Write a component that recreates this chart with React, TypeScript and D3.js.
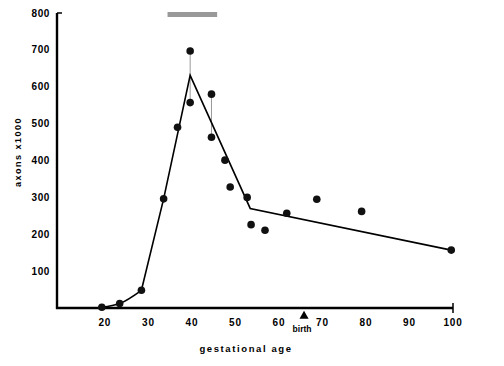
import React from 'react';
import * as d3 from 'd3';

// gestational age (x) and axon counts (y, x1000)
const ageTicks = [20, 30, 40, 50, 60, 70, 80, 90, 100];
const axonTicks = [100, 200, 300, 400, 500, 600, 700, 800];

const dotAge = [19.3, 23.4, 28.4, 33.5, 36.7, 39.6, 39.6, 44.5, 44.5, 47.6, 48.8, 52.7, 53.6, 56.8, 61.8, 68.7, 79, 99.6];
const dotAxons = [2, 12, 48, 296, 490, 697, 557, 580, 463, 401, 328, 300, 226, 211, 257, 295, 262, 157];

// fitted curve: smooth early rise, then straight segments
const riseAge = [19.3, 23.4, 28.4];
const riseAxons = [2, 12, 48];
const fitAge = [28.4, 33.5, 39.6, 53.4, 99.6];
const fitAxons = [48, 296, 631, 270, 157];

const rangeAge = [39.6, 44.5];
const rangeLow = [557, 463];
const rangeHigh = [697, 580];

const windowAge = [34.4, 45.8];
const birthAge = 66;

const W = 504;
const H = 366;
const font = '"Liberation Sans", Arial, sans-serif';

export default function App() {
  const x = d3.scaleLinear().domain([9, 100]).range([57, 453]);
  const y = d3.scaleLinear().domain([0, 800]).range([308, 13]);

  const rise = d3
    .line<number>()
    .x((d, i) => x(riseAge[i]))
    .y((d) => y(d))
    .curve(d3.curveMonotoneX);
  const fit = d3
    .line<number>()
    .x((d, i) => x(fitAge[i]))
    .y((d) => y(d));

  const tri = d3.symbol().type(d3.symbolTriangle).size(36)();

  return (
    <svg
      width={W}
      height={H}
      style={{ position: 'absolute', left: 0, top: 0, background: '#fff' }}
    >
      {/* sensitive window bar */}
      <rect
        x={x(windowAge[0])}
        y={12}
        width={x(windowAge[1]) - x(windowAge[0])}
        height={5}
        fill="#999"
      />

      {/* axes */}
      <line x1={57} x2={57} y1={y(0) + 1} y2={y(800)} stroke="#000" strokeWidth={2.4} />
      <line x1={57} x2={62} y1={y(800)} y2={y(800)} stroke="#000" strokeWidth={1.5} />
      <line x1={56} x2={x(100)} y1={y(0)} y2={y(0)} stroke="#000" strokeWidth={2.4} />
      <line x1={x(100)} x2={x(100)} y1={y(0) - 5} y2={y(0) + 5} stroke="#000" strokeWidth={1.5} />

      {axonTicks.map((t) => (
        <text
          key={t}
          x={50}
          y={y(t)}
          dy="0.35em"
          textAnchor="end"
          fontFamily={font}
          fontWeight="bold"
          fontSize={10}
          letterSpacing={0.6}
        >
          {t}
        </text>
      ))}
      {ageTicks.map((t) => (
        <text
          key={t}
          x={x(t)}
          y={326}
          textAnchor="middle"
          fontFamily={font}
          fontWeight="bold"
          fontSize={10}
          letterSpacing={0.8}
        >
          {t}
        </text>
      ))}

      <text
        transform={`translate(21,152) rotate(-90)`}
        textAnchor="middle"
        fontFamily={font}
        fontWeight="bold"
        fontSize={9}
        letterSpacing={1.5}
      >
        axons x1000
      </text>
      <text
        x={246}
        y={352}
        textAnchor="middle"
        fontFamily={font}
        fontWeight="bold"
        fontSize={9.5}
        letterSpacing={1.6}
      >
        gestational age
      </text>

      {/* birth marker */}
      <path d={tri ?? ''} transform={`translate(${x(birthAge) - 1},316)`} fill="#000" />
      <text
        x={x(birthAge) - 3}
        y={332}
        textAnchor="middle"
        fontFamily={font}
        fontWeight="bold"
        fontSize={8.5}
      >
        birth
      </text>

      {/* ranges */}
      {rangeAge.map((a, i) => (
        <line
          key={i}
          x1={x(a)}
          x2={x(a)}
          y1={y(rangeHigh[i])}
          y2={y(rangeLow[i])}
          stroke="#999"
          strokeWidth={1}
        />
      ))}

      <path d={rise(riseAxons) ?? ''} fill="none" stroke="#000" strokeWidth={1.6} />
      <path d={fit(fitAxons) ?? ''} fill="none" stroke="#000" strokeWidth={1.6} strokeLinejoin="miter" />

      {dotAge.map((a, i) => (
        <circle key={i} cx={x(a)} cy={y(dotAxons[i])} r={3.8} fill="#111" />
      ))}
    </svg>
  );
}
